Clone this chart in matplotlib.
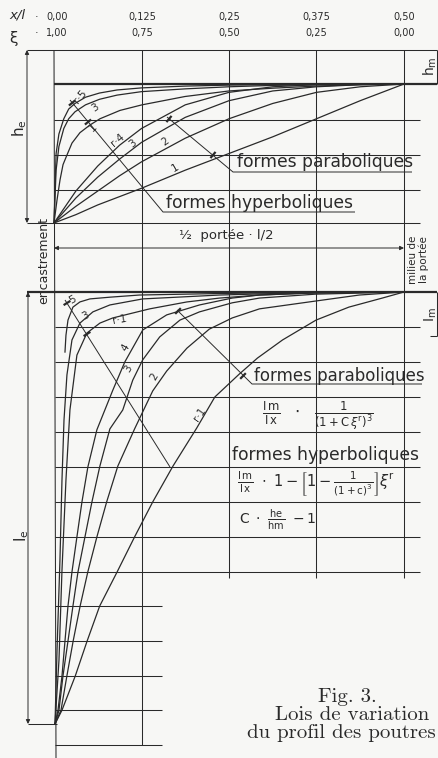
import matplotlib
matplotlib.use('Agg')  # no display available
import matplotlib.pyplot as plt

plt.rcParams['mathtext.fontset'] = 'dejavusans'

INK = '#2a2a2a'
PAPER = '#f7f7f5'

# x/l along the half span, and the matching xi = 1 - 2x/l
span_ticks = [0.0, 0.125, 0.25, 0.375, 0.5]
span_labels = ['0,00', '0,125', '0,25', '0,375', '0,50']
xi_labels = ['1,00', '0,75', '0,50', '0,25', '0,00']

# depth h, as (he - h) / (he - hm): 0 at the support, 1 at mid-span
h_para_x = [0, 0.03125, 0.0625, 0.09375, 0.125, 0.1875, 0.25, 0.3125, 0.375, 0.4375, 0.5]
h_para_r1 = [0, 0.06, 0.13, 0.19, 0.25, 0.38, 0.50, 0.62, 0.75, 0.88, 1.0]
h_para_r2 = [0, 0.12, 0.23, 0.34, 0.44, 0.61, 0.75, 0.86, 0.94, 0.98, 1.0]
h_para_r3 = [0, 0.18, 0.33, 0.46, 0.58, 0.76, 0.88, 0.95, 0.98, 0.995, 1.0]
h_para_r4 = [0, 0.23, 0.41, 0.56, 0.68, 0.85, 0.94, 0.98, 0.995, 1.0, 1.0]

h_hyp_x = [0, 0.003, 0.007, 0.014, 0.021, 0.03, 0.045, 0.065, 0.09, 0.125, 0.1875, 0.25, 0.3125, 0.375, 0.5]
h_hyp_r5 = [0, 0.50, 0.64, 0.75, 0.82, 0.86, 0.905, 0.935, 0.957, 0.972, 0.985, 0.992, 0.996, 1.0, 1.0]
h_hyp_r3 = [0, 0.38, 0.55, 0.68, 0.75, 0.80, 0.85, 0.89, 0.92, 0.945, 0.965, 0.98, 0.99, 0.995, 1.0]
h_hyp_r1_x = [0, 0.0043, 0.0086, 0.0129, 0.0186, 0.0257, 0.0371, 0.0514, 0.0657, 0.0943,
              0.1257, 0.1871, 0.25, 0.3129, 0.3743, 0.4371, 0.5]
h_hyp_r1 = [0, 0.165, 0.31, 0.42, 0.49, 0.575, 0.65, 0.705, 0.75, 0.81,
            0.85, 0.91, 0.95, 0.97, 0.985, 0.995, 1.0]

# inertia I, as (Ie - I) / (Ie - Im): 0 at the support, 1 at mid-span
i_para_r1_x = [0, 0.01, 0.029, 0.046, 0.064, 0.089, 0.114, 0.14, 0.169, 0.203, 0.229,
               0.264, 0.29, 0.326, 0.374, 0.421, 0.469, 0.5]
i_para_r1 = [0, 0.032, 0.111, 0.192, 0.273, 0.352, 0.433, 0.514, 0.597, 0.685, 0.757,
             0.81, 0.847, 0.889, 0.935, 0.965, 0.986, 1.0]
i_para_r2_x = [0, 0.0086, 0.017, 0.026, 0.036, 0.047, 0.06, 0.074, 0.09, 0.114, 0.14,
               0.16, 0.189, 0.221, 0.254, 0.293, 0.373, 0.436, 0.5]
i_para_r2 = [0, 0.032, 0.111, 0.192, 0.273, 0.352, 0.433, 0.514, 0.597, 0.683, 0.771,
             0.817, 0.87, 0.914, 0.94, 0.961, 0.979, 0.993, 1.0]
i_para_r3_x = [0, 0.0057, 0.0114, 0.0186, 0.0257, 0.0329, 0.0429, 0.0529, 0.0643, 0.0786,
               0.0971, 0.1114, 0.1257, 0.15, 0.179, 0.207, 0.254, 0.293, 0.373, 0.5]
i_para_r3 = [0, 0.032, 0.111, 0.192, 0.273, 0.352, 0.433, 0.514, 0.597, 0.683,
             0.727, 0.796, 0.843, 0.896, 0.935, 0.954, 0.975, 0.986, 0.995, 1.0]
i_para_r4_x = [0, 0.0043, 0.01, 0.0143, 0.0186, 0.0243, 0.0314, 0.0386, 0.0471, 0.06,
               0.0829, 0.1, 0.1257, 0.16, 0.207, 0.254, 0.293, 0.373, 0.5]
i_para_r4 = [0, 0.032, 0.111, 0.192, 0.273, 0.352, 0.433, 0.514, 0.595, 0.681,
             0.773, 0.838, 0.912, 0.947, 0.97, 0.986, 0.993, 0.998, 1.0]

i_hyp_r5_x = [0.0143, 0.0157, 0.0186, 0.0257, 0.0357, 0.05, 0.0786, 0.121, 0.236, 0.35, 0.5]
i_hyp_r5 = [0.861, 0.90, 0.935, 0.965, 0.977, 0.984, 0.988, 0.993, 0.9965, 0.999, 1.0]
i_hyp_r3_x = [0, 0.0029, 0.0071, 0.01, 0.0129, 0.0171, 0.0243, 0.0357, 0.0543, 0.0786,
              0.1257, 0.236, 0.35, 0.5]
i_hyp_r3 = [0, 0.171, 0.38, 0.565, 0.704, 0.808, 0.889, 0.928, 0.954, 0.97,
            0.984, 0.993, 0.998, 1.0]
i_hyp_r1_x = [0, 0.0057, 0.01, 0.0157, 0.0214, 0.0314, 0.0457, 0.0643, 0.0829, 0.1357,
              0.189, 0.236, 0.293, 0.373, 0.5]
i_hyp_r1 = [0, 0.148, 0.356, 0.565, 0.727, 0.854, 0.905, 0.928, 0.94, 0.961,
            0.977, 0.986, 0.993, 0.998, 1.0]

W, H = 438, 758
fig = plt.figure(figsize=(W / 100, H / 100), dpi=100, facecolor=PAPER)

# drawing sheet in pixel units (y down) for the frame, grid and lettering
sheet = fig.add_axes([0, 0, 1, 1])
sheet.set_xlim(0, W)
sheet.set_ylim(H, 0)
sheet.axis('off')


def panel(x0, x1, y0, y1):
    a = fig.add_axes([x0 / W, 1 - y0 / H, (x1 - x0) / W, (y0 - y1) / H])
    a.set_xlim(0, 0.5)
    a.set_ylim(0, 1)
    a.axis('off')
    a.patch.set_alpha(0)
    return a


ax_h = panel(54, 404, 223, 84)
ax_i = panel(55, 404, 724, 292)


def seg(xs, ys, lw=0.75):
    sheet.plot(xs, ys, color=INK, lw=lw, solid_capstyle='butt')


def dim(x0, y0, x1, y1, style='<|-|>'):
    sheet.annotate('', xy=(x1, y1), xytext=(x0, y0),
                   arrowprops=dict(arrowstyle=style, color=INK, lw=0.7,
                                   mutation_scale=6, shrinkA=0, shrinkB=0))


def txt(x, y, s, size=7, rot=0, family='DejaVu Sans', **kw):
    sheet.text(x, y, s, fontsize=size, rotation=rot, ha='center', va='center',
               color=INK, family=family, rotation_mode='anchor', **kw)


def tick(x, y, ang_dx, ang_dy, half=4):
    # short stroke across a leader line
    n = (ang_dx ** 2 + ang_dy ** 2) ** 0.5
    px, py = -ang_dy / n * half, ang_dx / n * half
    seg([x - px, x + px], [y - py, y + py], lw=1.6)


# ---- frame and grid
col_x = [142, 229, 316, 404]
seg([54, 56], [50, 758])
seg([142, 142], [50, 745])
for cx in col_x[1:]:
    seg([cx, cx], [50, 578])
seg([27, 437], [50, 50])
seg([54, 437], [84, 84], lw=1.6)
for gy in [120, 155, 190]:
    seg([54, 420], [gy, gy])
seg([27, 420], [223, 223])
seg([27, 437], [292, 292], lw=1.6)
for gy in [327, 362, 397, 432, 467, 502, 537, 572]:
    seg([55, 420], [gy, gy])
for gy in [606, 641, 676, 710, 745]:
    seg([55, 162], [gy, gy])
seg([28, 57], [724, 724])

# dimension lines
dim(27, 50, 27, 223)
dim(28, 292, 28, 724)
dim(54, 248, 404, 248)
seg([437, 437], [50, 84])
seg([437, 437], [292, 336])
seg([430, 437], [336, 336])

# ---- curves
for ys in [h_para_r1, h_para_r2, h_para_r3, h_para_r4]:
    ax_h.plot(h_para_x, ys, color=INK, lw=0.9, clip_on=False)
for ys in [h_hyp_r5, h_hyp_r3]:
    ax_h.plot(h_hyp_x, ys, color=INK, lw=0.9, clip_on=False)
ax_h.plot(h_hyp_r1_x, h_hyp_r1, color=INK, lw=0.9, clip_on=False)

for xs, ys in [(i_para_r1_x, i_para_r1), (i_para_r2_x, i_para_r2),
               (i_para_r3_x, i_para_r3), (i_para_r4_x, i_para_r4),
               (i_hyp_r5_x, i_hyp_r5), (i_hyp_r3_x, i_hyp_r3),
               (i_hyp_r1_x, i_hyp_r1)]:
    ax_i.plot(xs, ys, color=INK, lw=0.9, clip_on=False)

# ---- leader lines to the family labels
seg([70, 163, 355], [100, 212, 212], lw=0.7)
tick(72, 103, 93, 112)
tick(88, 122, 93, 112)
seg([167, 233, 412], [117, 172, 172], lw=0.7)
tick(169, 119, 66, 55)
tick(213, 155, 66, 55)
seg([177, 252, 422], [310, 384, 384], lw=0.7)
tick(178, 311, 75, 74)
tick(243, 376, 75, 74)
seg([65, 170], [300, 467], lw=0.7)
tick(67, 303, 105, 167)
tick(87, 334, 105, 167)

# ---- lettering
txt(17, 15, 'x/l', size=9.5, style='italic')
txt(14, 39, 'ξ', size=11)
txt(37, 17, '·', size=8)
txt(37, 33, '·', size=8)
for cx, a, b in zip([57] + col_x, span_labels, xi_labels):
    txt(cx, 17, a, size=7)
    txt(cx, 33, b, size=7)

txt(20, 128, r'$\mathrm{h_e}$', size=11, rot=90)
txt(22, 536, r'$\mathrm{I_e}$', size=11, rot=90)
txt(44, 260, 'encastrement', size=9, rot=90)
txt(430, 66, r'$\mathrm{h_m}$', size=10, rot=90)
txt(431, 315, r'$\mathrm{I_m}$', size=10, rot=90)
txt(413, 260, 'milieu de', size=7.5, rot=90)
txt(424, 260, 'la portée', size=7.5, rot=90)
txt(226, 236, '½  portée · l/2', size=9.5)

txt(325, 162, 'formes paraboliques', size=12.3)
txt(259, 203, 'formes hyperboliques', size=12.3)
txt(339, 376, 'formes paraboliques', size=12)
txt(326, 455, 'formes hyperboliques', size=12.3)

txt(318, 416, r'$\frac{\mathrm{I\,m}}{\mathrm{I\,x}}\ \ \cdot\ \ \frac{1}{(1+\mathrm{C}\,\xi^{\mathrm{r}})^{3}}$', size=12)
txt(316, 484, r'$\frac{\mathrm{I\,m}}{\mathrm{I\,x}}\ \cdot\ 1-\left[1-\frac{1}{(1+\mathrm{c})^{3}}\right]\xi^{\mathrm{r}}$', size=10.5)
txt(278, 520, r'$\mathrm{C}\ \cdot\ \frac{\mathrm{he}}{\mathrm{hm}}\ -1$', size=10)

# curve numbers, top panel
txt(80, 97, 'r·5', size=7.5, rot=50)
txt(95, 108, '3', size=7.5, rot=35)
txt(93, 128, '1', size=7.5, rot=45)
txt(118, 140, 'r·4', size=7.5, rot=40)
txt(133, 144, '3', size=7.5, rot=40)
txt(165, 142, '2', size=7.5, rot=35)
txt(175, 168, '1', size=7.5, rot=30)
# curve numbers, bottom panel
txt(73, 300, '5', size=7.5, rot=30)
txt(86, 316, '3', size=7.5, rot=30)
txt(120, 320, 'r·1', size=7.5, rot=10)
txt(125, 348, '4', size=7.5, rot=60)
txt(128, 369, '3', size=7.5, rot=60)
txt(154, 377, '2', size=7.5, rot=60)
txt(200, 414, 'r·1', size=7.5, rot=55)

# caption
txt(347, 697, 'Fig. 3.', size=15, family='cmr10')
txt(352, 715, 'Lois de variation', size=15, family='cmr10')
txt(341, 733, 'du profil des poutres', size=15, family='cmr10')

fig.savefig('out.png', dpi=100, facecolor=PAPER)
